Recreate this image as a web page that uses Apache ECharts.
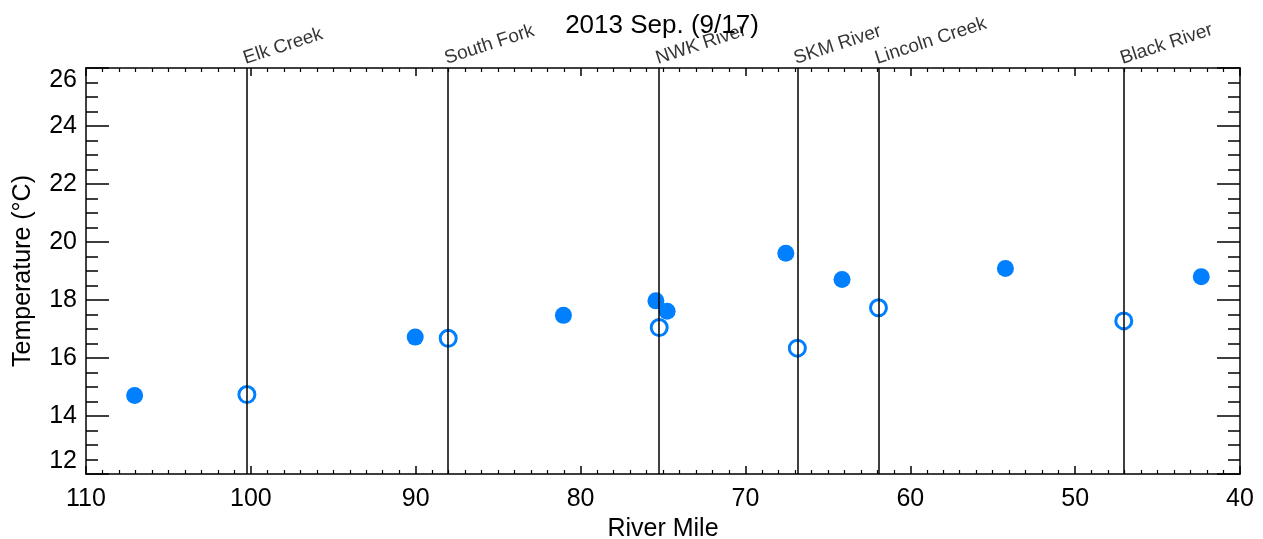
<!DOCTYPE html>
<html>
<head>
<meta charset="utf-8">
<script src="https://cdn.jsdelivr.net/npm/echarts@6/dist/echarts.min.js"></script>
<style>
html,body{margin:0;padding:0;background:#fff;}
#chart{width:1263px;height:539px;}
</style>
</head>
<body>
<div id="chart"></div>
<script>
// Data
const filledMiles = [107.05, 90.03, 81.04, 75.43, 74.75, 67.55, 64.14, 54.23, 42.35];
const filledTemps = [14.71, 16.72, 17.47, 17.97, 17.61, 19.61, 18.71, 19.09, 18.80];
const openMiles = [100.24, 88.03, 75.23, 66.85, 61.93, 47.05];
const openTemps = [14.74, 16.68, 17.05, 16.34, 17.73, 17.28];
const tributaryNames = ['Elk Creek', 'South Fork', 'NWK River', 'SKM River', 'Lincoln Creek', 'Black River'];
const tributaryMiles = [100.24, 88.03, 75.23, 66.85, 61.93, 47.05];
const titleText = '2013 Sep. (9/17)';
const xName = 'River Mile';
const yName = 'Temperature (\u00B0C)';

const FONT = '"Liberation Sans", Arial, Helvetica, sans-serif';
const BLUE = '#0080ff';
const AX = '#000';

const chart = echarts.init(document.getElementById('chart'), null, {renderer: 'canvas'});

const xBase = {
  type: 'value', min: 40, max: 110, interval: 10, inverse: true,
  axisLine: {show: true, onZero: false, lineStyle: {color: AX, width: 1.5}},
  axisTick: {show: true, inside: true, length: 8, lineStyle: {color: AX, width: 1.5}},
  minorTick: {show: true, splitNumber: 10, length: 4, lineStyle: {color: AX, width: 1.2}},
  splitLine: {show: false}
};
const yBase = {
  type: 'value', min: 12, max: 26, interval: 2,
  axisLine: {show: true, onZero: false, lineStyle: {color: AX, width: 1.5}},
  axisTick: {show: true, inside: true, length: 23, lineStyle: {color: AX, width: 1.5}},
  minorTick: {show: true, splitNumber: 4, length: 12, lineStyle: {color: AX, width: 1.5}},
  splitLine: {show: false}
};

const option = {
  backgroundColor: '#fff',
  animation: false,
  title: {
    text: titleText, left: 657, textAlign: 'center', top: 8,
    textStyle: {fontFamily: FONT, fontSize: 26, fontWeight: 'normal', color: '#000'}
  },
  grid: {left: 86, right: 23, top: 68, bottom: 65, containLabel: false, outerBoundsMode: 'none'},
  xAxis: [
    Object.assign({}, xBase, {
      position: 'bottom',
      name: xName, nameLocation: 'middle', nameGap: 36,
      nameTextStyle: {fontFamily: FONT, fontSize: 25, color: '#000'},
      axisLabel: {show: true, margin: 13, fontFamily: FONT, fontSize: 25, color: '#000'}
    }),
    Object.assign({}, xBase, {position: 'top', axisLabel: {show: false}})
  ],
  yAxis: [
    Object.assign({}, yBase, {
      position: 'left',
      name: yName, nameLocation: 'middle', nameGap: 50, nameRotate: 90,
      nameTextStyle: {fontFamily: FONT, fontSize: 25, color: '#000'},
      axisLabel: {show: true, margin: 9, fontFamily: FONT, fontSize: 25, color: '#000',
        verticalAlignMaxLabel: 'top', verticalAlignMinLabel: 'bottom'}
    }),
    Object.assign({}, yBase, {position: 'right', axisLabel: {show: false}})
  ],
  series: [
    {
      type: 'scatter', name: 'tributaries', silent: true, z: 1,
      data: tributaryMiles.map((m, i) => ({value: [m, 26], name: tributaryNames[i]})),
      symbolSize: 0,
      label: {
        show: true, formatter: '{b}', position: [0, 0], rotate: 18,
        align: 'left', verticalAlign: 'bottom',
        fontFamily: FONT, fontSize: 19, color: '#000'
      },
      markLine: {
        silent: true, symbol: ['none', 'none'],
        lineStyle: {color: '#000', width: 1.5, type: 'solid'},
        label: {show: false},
        data: tributaryMiles.map(m => ({xAxis: m}))
      }
    },
    {
      type: 'scatter', name: 'filled', z: 3,
      data: filledMiles.map((m, i) => [m, filledTemps[i]]),
      symbol: 'circle', symbolSize: 17,
      itemStyle: {color: BLUE, opacity: 1}
    },
    {
      type: 'scatter', name: 'open', z: 3,
      data: openMiles.map((m, i) => [m, openTemps[i]]),
      symbol: 'circle', symbolSize: 16,
      itemStyle: {color: 'rgba(0,0,0,0)', borderColor: BLUE, borderWidth: 3, opacity: 1}
    }
  ]
};
chart.setOption(option);
</script>
</body>
</html>
